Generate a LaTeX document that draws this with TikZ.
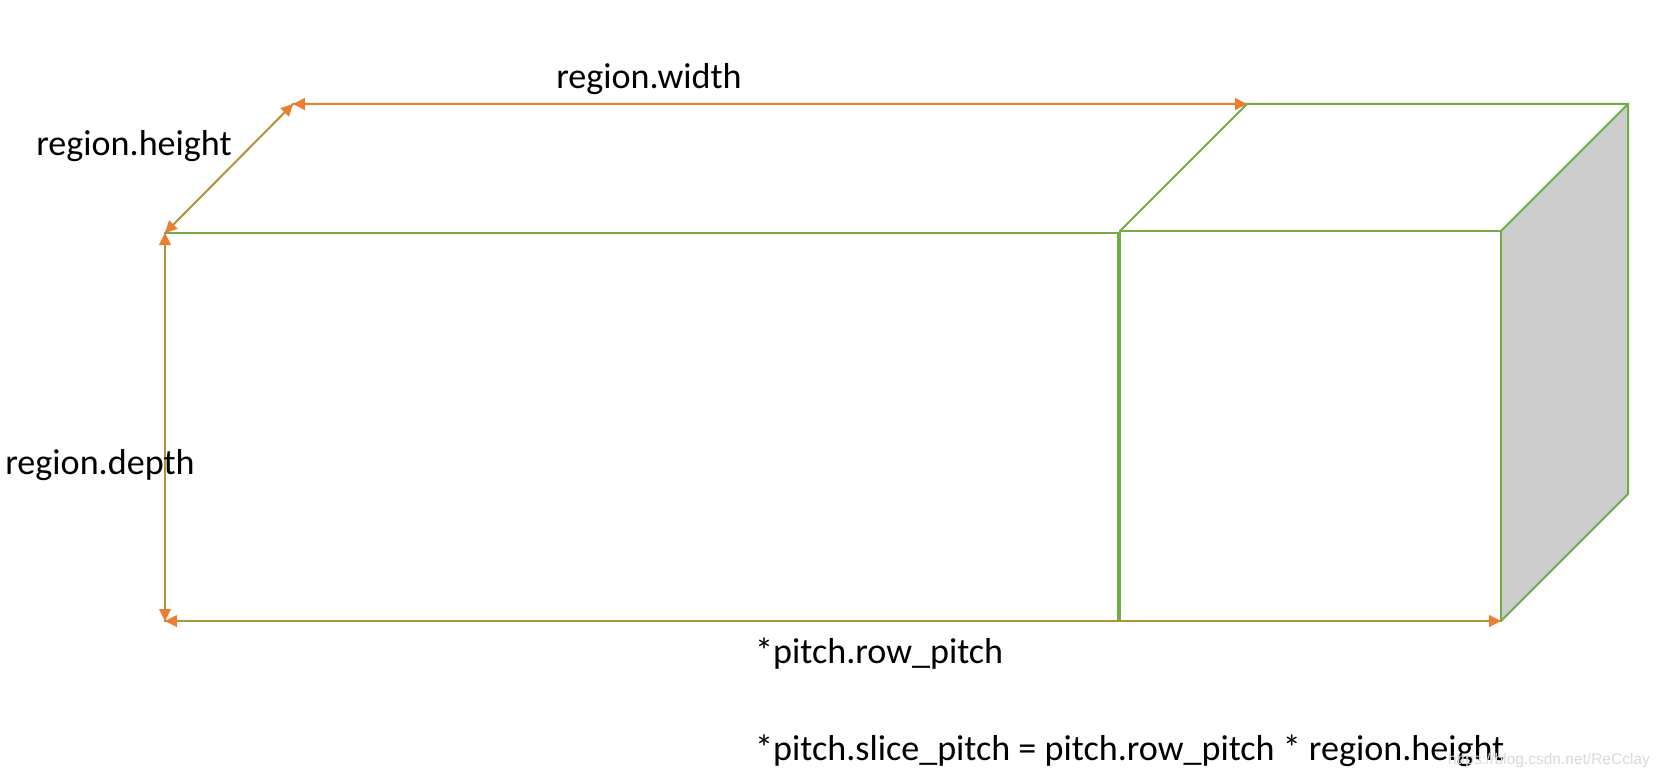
\documentclass[tikz,border=0pt]{standalone}
\usepackage{fontspec}
\setmainfont{Carlito}
\newfontfamily\markfont{Liberation Sans}
\usepackage{tikz}
\usetikzlibrary{arrows.meta}
\definecolor{edgegreen}{HTML}{70AD47}
\definecolor{dimorange}{HTML}{ED7D31}
\definecolor{sidegray}{HTML}{CCCCCC}

\begin{document}
\begin{tikzpicture}[x=1pt,y=-1pt,
    edge/.style={draw=edgegreen,line width=2pt},
    dim/.style={draw=dimorange,line width=1pt,{Triangle[length=12pt,width=12pt]}-{Triangle[length=12pt,width=12pt]}},
    label/.style={inner sep=0pt,font=\fontsize{36.1}{42}\selectfont,text=black}]
\useasboundingbox (0,0) rectangle (1659,778);
\coordinate (fl) at (165,233);
\coordinate (bl) at (165,621);
\coordinate (ml) at (1118,233);
\coordinate (mb) at (1118,621);
\coordinate (mr) at (1120,231);
\coordinate (mrb) at (1120,621);
\coordinate (fr) at (1501,231);
\coordinate (br) at (1501,621);
\coordinate (tl) at (293,104);
\coordinate (tm) at (1247,104);
\coordinate (tr) at (1628,104);
\coordinate (sr) at (1628,494);
% box
\fill[sidegray] (fr) -- (tr) -- (sr) -- (br) -- cycle;
\draw[edge] (fl) -- (ml) -- (mb) -- (bl) -- cycle;
\draw[edge] (mr) -- (fr) -- (br) -- (mrb) -- cycle;
\draw[edge] (fl) -- (tl) -- (tr) -- (sr) -- (br);
\draw[edge] (mr) -- (tm);
\draw[edge] (fr) -- (tr);
% sizes
\draw[dim,line width=1.4pt,yshift=-.3pt] (tl) -- (tm);
\draw[dim,xshift=.5pt,yshift=-.5pt] (tl) -- (fl);
\draw[dim,xshift=.5pt] (fl) -- (bl);
\draw[dim,yshift=-.5pt] (bl) -- (br);
\node[label] (width) at (649,79) {region.width};
\node[label] (height) at (134,146) {region.height};
\node[label] (depth) at (100,465) {region.depth};
\node[label,anchor=west] (row) at (755,654) {*pitch.row\_pitch};
\node[label,anchor=west] (slice) at (755,751) {*pitch.slice\_pitch = pitch.row\_pitch * region.height};
\node[inner sep=0pt,text=black!15,font=\markfont\fontsize{15.5}{18}\selectfont] (mark) at (1549,760) {https://blog.csdn.net/ReCclay};
\end{tikzpicture}
\end{document}
